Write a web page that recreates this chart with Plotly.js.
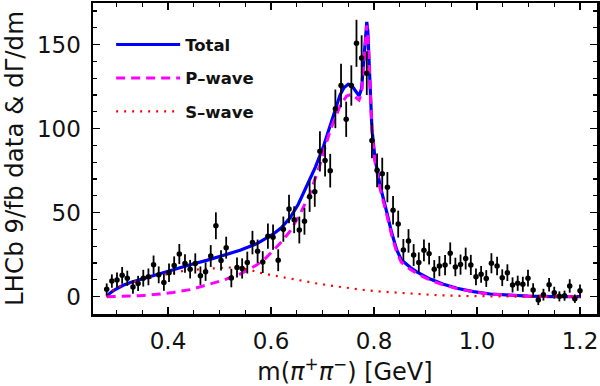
<!DOCTYPE html>
<html>
<head>
<meta charset="utf-8">
<script src="https://cdn.plot.ly/plotly-3.0.1.min.js"></script>
<style>
  html, body { margin: 0; padding: 0; background: #fff; }
  #chart { width: 600px; height: 386px; }
</style>
</head>
<body>
<div id="chart"></div>
<script>
// LHCb data points: m(pi+ pi-) [GeV], counts, errors
const massData = [0.281, 0.291, 0.301, 0.311, 0.321, 0.332, 0.342, 0.352, 0.362, 0.372,
  0.382, 0.392, 0.402, 0.412, 0.422, 0.433, 0.443, 0.453, 0.463, 0.473,
  0.483, 0.493, 0.503, 0.513, 0.523, 0.534, 0.544, 0.554, 0.564, 0.574,
  0.584, 0.594, 0.604, 0.614, 0.624, 0.635, 0.645, 0.655, 0.665, 0.675,
  0.685, 0.695, 0.705, 0.715, 0.725, 0.736, 0.746, 0.756, 0.766, 0.776,
  0.786, 0.796, 0.806, 0.816, 0.826, 0.837, 0.847, 0.857, 0.867, 0.877,
  0.887, 0.897, 0.907, 0.917, 0.927, 0.938, 0.948, 0.958, 0.968, 0.978,
  0.988, 0.998, 1.008, 1.018, 1.028, 1.039, 1.049, 1.059, 1.069, 1.079,
  1.089, 1.099, 1.109, 1.119, 1.129, 1.140, 1.150, 1.160, 1.170, 1.180,
  1.190, 1.200];
const countData = [4.4, 9.3, 9.9, 12.7, 11.0, 5.8, 7.9, 11.0, 11.8, 19.0,
  13.0, 8.5, 14.3, 18.5, 25.4, 19.7, 16.4, 19.8, 12.5, 14.9,
  24.2, 42.2, 21.6, 29.2, 11.1, 17.4, 16.8, 20.3, 32.2, 27.0,
  20.6, 36.0, 35.4, 21.7, 40.2, 52.2, 45.8, 39.7, 44.9, 59.5,
  62.5, 86.5, 81.0, 75.0, 111.8, 125.7, 105.6, 125.7, 150.8, 142.1,
  133.0, 92.9, 75.2, 73.2, 65.2, 51.5, 43.2, 27.8, 33.2, 24.8,
  20.4, 27.6, 25.6, 16.3, 18.2, 18.8, 25.8, 17.7, 19.1, 22.7,
  18.9, 11.8, 13.3, 10.8, 19.9, 18.3, 11.3, 14.3, 7.0, 8.0,
  7.4, 11.0, 4.0, -2.0, 1.2, 7.1, 2.4, 0.2, 0.6, 6.4,
  -1.2, 3.6];
const countErr = [3.5, 4, 4.5, 5, 4.5, 4, 4.5, 5, 5, 5.5,
  5, 5, 5.5, 5.5, 6, 5.5, 5.5, 6, 5.5, 5.5,
  6.5, 8, 6, 6.5, 5.5, 6, 6, 6.5, 7, 7,
  6.5, 7.5, 7.5, 6.5, 7.5, 8.5, 8, 8, 8, 9,
  9, 12, 9.5, 10, 11.5, 13, 10.5, 12, 14, 13.5,
  13, 10.5, 10, 9.5, 9, 8.5, 8, 6.5, 7, 6.5,
  6, 6.5, 6.5, 5.5, 6, 6, 6.5, 5.5, 6, 6.5,
  6, 5, 5, 5, 6, 5.5, 5, 5, 4.5, 4.5,
  4.5, 5, 4, 3, 3.5, 4, 3.5, 3, 3, 4,
  2.5, 3.7];

// Model curves
const massTotal = [0.281, 0.287, 0.294, 0.303, 0.313, 0.330, 0.346, 0.362, 0.378, 0.394,
  0.410, 0.443, 0.475, 0.507, 0.540, 0.572, 0.604, 0.620, 0.637, 0.653,
  0.669, 0.686, 0.702, 0.711, 0.721, 0.734, 0.742, 0.750, 0.756, 0.763,
  0.771, 0.776, 0.780, 0.784, 0.786, 0.788, 0.790, 0.793, 0.796, 0.802,
  0.812, 0.825, 0.834, 0.844, 0.853, 0.870, 0.883, 0.909, 0.935, 0.961,
  0.993, 1.026, 1.060, 1.100, 1.150, 1.202];
const totalWave = [0, 2.0, 3.6, 5.3, 6.8, 8.8, 10.3, 11.9, 13.3, 14.8,
  16.2, 19.0, 21.6, 24.5, 27.6, 31.5, 37.2, 41.0, 47.0, 55.0,
  65.5, 77.0, 89.5, 98.0, 108.0, 120.0, 124.5, 126.5, 126.0, 123.0,
  119.5, 124.0, 140.0, 160.0, 163.5, 158.0, 145.0, 122.0, 100.0, 82.0,
  66.0, 50.0, 38.5, 28.0, 22.0, 17.5, 14.8, 10.5, 7.4, 5.0,
  3.0, 1.6, 0.8, 0.3, 0.1, 0];

const massP = [0.281, 0.313, 0.346, 0.378, 0.410, 0.443, 0.475, 0.507, 0.540, 0.572,
  0.590, 0.604, 0.620, 0.637, 0.656, 0.676, 0.695, 0.715, 0.734, 0.747,
  0.757, 0.765, 0.771, 0.776, 0.780, 0.784, 0.786, 0.788, 0.790, 0.793,
  0.796, 0.802, 0.812, 0.825, 0.834, 0.844, 0.853, 0.870, 0.883, 0.909,
  0.935, 0.961, 0.993, 1.026, 1.060, 1.100, 1.150, 1.202];
const pWave = [0, 0.2, 0.6, 1.4, 2.5, 4.2, 6.8, 9.8, 13.5, 18.8,
  23.0, 27.5, 32.5, 39.0, 49.0, 61.5, 78.5, 99.0, 113.5, 119.5,
  120.5, 118.5, 117.0, 121.0, 138.0, 158.0, 161.5, 157.0, 144.0, 121.0,
  99.0, 80.0, 64.0, 48.5, 37.0, 26.5, 20.5, 16.3, 13.8, 9.8,
  7.0, 4.8, 2.9, 1.5, 0.8, 0.3, 0.1, 0];

const massS = [0.281, 0.287, 0.294, 0.303, 0.313, 0.333, 0.355, 0.378, 0.400, 0.417,
  0.440, 0.462, 0.490, 0.517, 0.540, 0.560, 0.575, 0.600, 0.624, 0.655,
  0.687, 0.720, 0.750, 0.780, 0.815, 0.850, 0.880, 0.928, 0.980, 1.040,
  1.100, 1.202];
const sWave = [0, 2.2, 4.0, 5.8, 7.0, 8.9, 10.6, 12.0, 13.6, 14.7,
  15.8, 16.4, 16.9, 17.4, 17.0, 16.0, 14.4, 12.9, 11.5, 9.7,
  8.0, 6.4, 5.0, 4.0, 3.0, 2.2, 1.6, 0.8, 0.4, 0.1,
  0, 0];

const xTickVals = [0.4, 0.6, 0.8, 1.0, 1.2];
const xTickText = ['0.4', '0.6', '0.8', '1.0', '1.2'];
const yTickVals = [0, 50, 100, 150];
const yTickText = ['0', '50', '100', '150'];

const FONT = 'DejaVu Sans, sans-serif';

const traces = [
  {
    x: massTotal, y: totalWave, mode: 'lines', name: 'Total', legendgroup: 'a',
    line: { color: '#0000ff', width: 3.2 }
  },
  {
    x: massP, y: pWave, mode: 'lines', name: 'P\u2013wave', legendgroup: 'b',
    line: { color: '#ff00ff', width: 3, dash: '9px,6px' }
  },
  {
    x: massS, y: sWave, mode: 'lines', name: 'S\u2013wave', legendgroup: 'c',
    line: { color: '#ff0000', width: 2.2, dash: '2px,6px' }
  },
  {
    x: massData, y: countData, mode: 'markers', showlegend: false,
    marker: { color: '#000', size: 5.5 },
    error_y: { type: 'data', array: countErr, visible: true, color: '#000', thickness: 1.8, width: 0 }
  }
];

const axisCommon = {
  showline: true, linecolor: '#000', linewidth: 2.5, mirror: 'allticks',
  ticks: 'inside', ticklen: 7, tickwidth: 1.5, tickcolor: '#000',
  showgrid: false, zeroline: false,
  tickfont: { family: FONT, size: 23, color: '#111' }
};

const layout = {
  width: 600, height: 386,
  margin: { l: 93, r: 3, t: 3, b: 72 },
  paper_bgcolor: '#fff', plot_bgcolor: '#fff',
  showlegend: true,
  legend: {
    x: 0.036, y: 0.922, xanchor: 'left', yanchor: 'top',
    bgcolor: 'rgba(0,0,0,0)', itemwidth: 64, tracegroupgap: 9,
    font: { family: FONT, size: 16.5, color: '#111', weight: 'bold' }
  },
  xaxis: Object.assign({}, axisCommon, {
    range: [0.2544, 1.233],
    tickmode: 'array', tickvals: xTickVals, ticktext: xTickText,
    ticklabelstandoff: 5,
    minor: { tickmode: 'linear', tick0: 0, dtick: 0.05, ticks: 'inside', ticklen: 4, tickwidth: 1.2, tickcolor: '#000' },
    title: { text: 'm(<i>π</i><sup>+</sup><i>π</i><sup>−</sup>) [GeV]', font: { family: FONT, size: 24, color: '#111' }, standoff: 8 }
  }),
  yaxis: Object.assign({}, axisCommon, {
    range: [-10.3, 174.8],
    tickmode: 'array', tickvals: yTickVals, ticktext: yTickText,
    ticklabelstandoff: 5,
    minor: { tickmode: 'linear', tick0: 0, dtick: 10, ticks: 'inside', ticklen: 4, tickwidth: 1.2, tickcolor: '#000' },
    title: { text: 'LHCb 9/fb data &amp; dΓ/dm', font: { family: FONT, size: 24.5, color: '#111' }, standoff: 8 }
  })
};

Plotly.newPlot('chart', traces, layout, { displayModeBar: false, staticPlot: true });
</script>
</body>
</html>
